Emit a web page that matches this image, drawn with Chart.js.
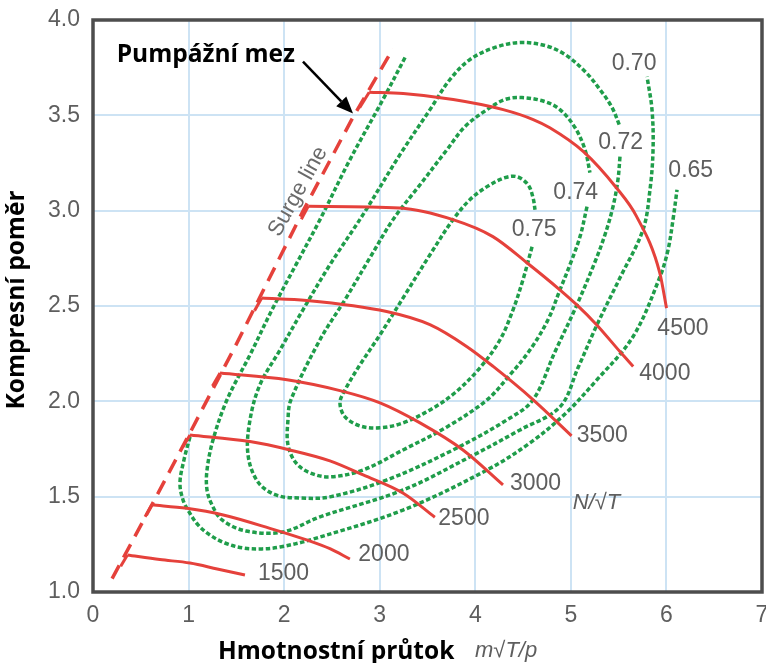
<!DOCTYPE html>
<html>
<head>
<meta charset="utf-8">
<script src="https://cdn.jsdelivr.net/npm/chart.js@4.4.1/dist/chart.umd.min.js"></script>
<style>
html, body { margin: 0; padding: 0; background: #fff; }
#wrap { position: relative; width: 766px; height: 663px; }
</style>
</head>
<body>
<div id="wrap"><canvas id="mapa"></canvas></div>
<script>
// tick labels
var xTickLabels = ['0', '1', '2', '3', '4', '5', '6', '7'];
var yTickLabels = ['1.0', '1.5', '2.0', '2.5', '3.0', '3.5', '4.0'];

// surge line (pumpazni mez)
var surgeLine = [[0.2, 1.07], [0.63, 1.47], [1.02, 1.84], [1.5, 2.3], [2.2, 3.0], [2.72, 3.49], [3.14, 3.85]];

// speed lines N/sqrt(T)
var speedNames = ['1500', '2000', '2500', '3000', '3500', '4000', '4500'];
var speed1500 = [[0.36, 1.194], [0.70, 1.17], [1.015, 1.152], [1.30, 1.121], [1.59, 1.089]];
var speed2000 = [[0.615, 1.457], [0.98, 1.439], [1.363, 1.404], [1.851, 1.334], [2.235, 1.273], [2.479, 1.227], [2.688, 1.173]];
var speed2500 = [[1.015, 1.824], [1.642, 1.789], [2.061, 1.745], [2.479, 1.688], [2.827, 1.614], [3.246, 1.518], [3.577, 1.392]];
var speed3000 = [[1.329, 2.148], [2.03, 2.113], [2.584, 2.056], [3.003, 1.992], [3.422, 1.887], [3.871, 1.745], [4.29, 1.562]];
var speed3500 = [[1.765, 2.542], [2.236, 2.529], [3.072, 2.471], [3.525, 2.402], [3.909, 2.288], [4.187, 2.183], [4.606, 2.008], [5.007, 1.819]];
var speed4000 = [[2.252, 3.023], [3.211, 3.014], [3.766, 2.953], [4.184, 2.864], [4.54, 2.727], [4.885, 2.585], [5.06, 2.507], [5.269, 2.402], [5.513, 2.261], [5.652, 2.183]];
var speed4500 = [[2.89, 3.621], [3.246, 3.614], [3.769, 3.583], [4.292, 3.53], [4.606, 3.478], [4.78, 3.435], [5.129, 3.311], [5.478, 3.119], [5.687, 2.97], [5.931, 2.673], [6.001, 2.489]];
var speedLines = [speed1500, speed2000, speed2500, speed3000, speed3500, speed4000, speed4500];
// short pieces where each speed line leaves the surge line
var surgeFeet = [[0.29, 1.135], [0.545, 1.395], [0.94, 1.76], [1.25, 2.08], [1.69, 2.475], [2.18, 2.955], [2.79, 3.54]];

// efficiency contours
var effNames = ['0.65', '0.70', '0.72', '0.74', '0.75'];
var eff065 = [[1.015, 1.814], [0.952, 1.693], [0.910, 1.572], [0.942, 1.483], [1.005, 1.420], [1.099, 1.352], [1.224, 1.299], [1.381, 1.257], [1.570, 1.231], [1.768, 1.226], [1.957, 1.236], [2.271, 1.273], [3.244, 1.430], [4.123, 1.640], [4.573, 1.782], [4.939, 1.934], [5.253, 2.102], [5.650, 2.339], [5.933, 2.654], [6.017, 2.795], [6.069, 2.953], [6.111, 3.110]];
var eff070 = [[3.265, 3.803], [3.034, 3.583], [2.689, 3.268], [2.375, 2.953], [2.124, 2.717], [1.873, 2.480], [1.643, 2.244], [1.402, 2.008], [1.256, 1.798], [1.193, 1.640], [1.193, 1.535], [1.245, 1.457], [1.350, 1.378], [1.601, 1.320], [1.988, 1.315], [2.375, 1.394], [3.244, 1.535], [3.945, 1.709], [4.468, 1.850], [4.886, 1.971], [5.075, 2.176], [5.274, 2.402], [5.514, 2.648], [5.755, 2.900], [5.828, 3.110], [5.860, 3.320], [5.849, 3.530], [5.797, 3.703]];
var eff072 = [[5.514, 3.283], [5.493, 3.163], [5.441, 3.021], [5.357, 2.874], [5.253, 2.732], [5.064, 2.507], [4.834, 2.260], [4.604, 2.008], [4.332, 1.903], [3.767, 1.745], [3.076, 1.588], [2.480, 1.499], [2.166, 1.493], [1.915, 1.509], [1.726, 1.577], [1.622, 1.719], [1.643, 1.903], [1.747, 2.087], [1.957, 2.270], [2.197, 2.480], [2.480, 2.717], [2.825, 2.979], [3.212, 3.294], [3.526, 3.530], [3.735, 3.688], [3.945, 3.793], [4.206, 3.856], [4.468, 3.882], [4.730, 3.866], [4.939, 3.819], [5.148, 3.730], [5.305, 3.635], [5.431, 3.541], [5.514, 3.441]];
var eff074 = [[5.169, 3.021], [5.096, 2.864], [4.991, 2.717], [4.886, 2.585], [4.761, 2.428], [4.573, 2.270], [4.363, 2.139], [4.123, 2.008], [3.704, 1.866], [3.244, 1.745], [2.825, 1.640], [2.480, 1.604], [2.271, 1.625], [2.124, 1.677], [2.040, 1.772], [2.040, 1.903], [2.071, 2.008], [2.375, 2.323], [2.637, 2.533], [2.898, 2.753], [3.139, 2.953], [3.422, 3.136], [3.704, 3.320], [3.892, 3.441], [4.123, 3.530], [4.311, 3.583], [4.489, 3.593], [4.730, 3.572], [4.886, 3.530], [5.043, 3.436], [5.148, 3.320], [5.200, 3.199]];
var eff075 = [[4.594, 2.811], [4.499, 2.638], [4.395, 2.480], [4.259, 2.323], [4.049, 2.176], [3.788, 2.045], [3.526, 1.955], [3.244, 1.887], [3.003, 1.861], [2.794, 1.871], [2.637, 1.919], [2.584, 1.992], [2.637, 2.060], [2.794, 2.192], [3.003, 2.349], [3.265, 2.559], [3.526, 2.769], [3.767, 2.953], [3.945, 3.058], [4.123, 3.126], [4.311, 3.173], [4.437, 3.178], [4.552, 3.136], [4.604, 3.068], [4.625, 3.005]];
var effLines = [eff065, eff070, eff072, eff074, eff075];

// where the texts sit (data coordinates)
var speedLabelAt = [[1.726, 1.097], [2.776, 1.194], [3.613, 1.386], [4.363, 1.570], [5.061, 1.819], [5.716, 2.144], [5.905, 2.383]];
var effLabelAt = [[6.020, 3.208], [5.427, 3.773], [5.287, 3.355], [4.817, 3.093], [4.381, 2.900]];
var nLabelAt = [5.019, 1.467];
var surgeTextAt = [2.145, 3.100];
var pumpTextAt = [0.248, 3.778];
var arrowFrom = [2.197, 3.782];
var arrowTo = [2.721, 3.509];

var RED = '#e5413b';
var GREEN = '#1f9d4a';
var GRID = '#cde3f4';
var GRAY = '#5e5e5e';
var SANS = '"Liberation Sans", Arial, sans-serif';
var BOLD = '"Open Sans", "DejaVu Sans", sans-serif';

function pts(a) {
    return a.map(function (p) { return { x: p[0], y: p[1] }; });
}

var datasets = [];
speedLines.forEach(function (line, i) {
    datasets.push({ data: pts(line), borderColor: RED, borderWidth: 3, cubicInterpolationMode: 'monotone' });
    datasets.push({ data: pts([surgeFeet[i], line[0]]), borderColor: RED, borderWidth: 3, tension: 0 });
});
datasets.push({ data: pts(surgeLine), borderColor: RED, borderWidth: 3.5, borderDash: [15, 9], tension: 0 });
effLines.forEach(function (line) {
    datasets.push({ data: pts(line), borderColor: GREEN, borderWidth: 3.5, borderDash: [4.5, 2.5], tension: 0.35 });
});
datasets.forEach(function (d) {
    d.showLine = true;
    d.pointRadius = 0;
    d.fill = false;
});

var extras = {
    id: 'extras',
    afterDatasetsDraw: function (chart) {
        var ctx = chart.ctx, xs = chart.scales.x, ys = chart.scales.y;
        function px(p) { return [xs.getPixelForValue(p[0]), ys.getPixelForValue(p[1])]; }
        var q;

        ctx.save();
        ctx.fillStyle = GRAY;
        ctx.textAlign = 'left';
        ctx.textBaseline = 'middle';
        ctx.font = '23px ' + SANS;
        speedNames.forEach(function (t, i) {
            q = px(speedLabelAt[i]);
            ctx.fillText(t, q[0], q[1]);
        });
        effNames.forEach(function (t, i) {
            q = px(effLabelAt[i]);
            ctx.fillText(t, q[0], q[1]);
        });
        ctx.font = 'italic 22px ' + SANS;
        q = px(nLabelAt);
        ctx.fillText('N/\u221AT', q[0], q[1]);

        // "Surge line" along the dashed line
        q = px(surgeTextAt);
        ctx.save();
        ctx.translate(q[0], q[1]);
        ctx.rotate(-61 * Math.PI / 180);
        ctx.textAlign = 'center';
        ctx.font = '22px ' + SANS;
        ctx.fillStyle = '#6a6a6a';
        ctx.fillText('Surge line', 0, 0);
        ctx.restore();

        // Pumpazni mez + arrow
        ctx.fillStyle = '#000';
        ctx.font = 'bold 24.5px ' + BOLD;
        ctx.textBaseline = 'alphabetic';
        q = px(pumpTextAt);
        ctx.fillText('Pumpážní mez', q[0], q[1]);

        var a = px(arrowFrom), b = px(arrowTo);
        var ang = Math.atan2(b[1] - a[1], b[0] - a[0]);
        var head = 17, half = 7;
        var bx = b[0] - head * Math.cos(ang), by = b[1] - head * Math.sin(ang);
        ctx.strokeStyle = '#000';
        ctx.lineWidth = 2.5;
        ctx.beginPath();
        ctx.moveTo(a[0], a[1]);
        ctx.lineTo(bx, by);
        ctx.stroke();
        ctx.beginPath();
        ctx.moveTo(b[0], b[1]);
        ctx.lineTo(bx + half * Math.sin(ang), by - half * Math.cos(ang));
        ctx.lineTo(bx - half * Math.sin(ang), by + half * Math.cos(ang));
        ctx.closePath();
        ctx.fill();
        ctx.restore();
    },
    afterDraw: function (chart) {
        var ctx = chart.ctx, ca = chart.chartArea;
        ctx.save();
        ctx.strokeStyle = '#4d4d4d';
        ctx.lineWidth = 3.5;
        ctx.strokeRect(ca.left, ca.top, ca.right - ca.left, ca.bottom - ca.top);

        // axis titles
        ctx.fillStyle = '#000';
        ctx.font = 'bold 24.5px ' + BOLD;
        ctx.textBaseline = 'alphabetic';
        ctx.textAlign = 'left';
        ctx.fillText('Hmotnostní průtok', 218, 659);
        ctx.fillStyle = GRAY;
        ctx.font = 'italic 22px ' + SANS;
        ctx.fillText('m\u221AT/p', 475, 657);

        ctx.translate(17, 300);
        ctx.rotate(-Math.PI / 2);
        ctx.fillStyle = '#000';
        ctx.font = 'bold 24.5px ' + BOLD;
        ctx.textAlign = 'center';
        ctx.textBaseline = 'middle';
        ctx.fillText('Kompresní poměr', 0, 0);
        ctx.restore();
    }
};

new Chart(document.getElementById('mapa'), {
    type: 'scatter',
    data: { datasets: datasets },
    plugins: [extras],
    options: {
        responsive: true,
        maintainAspectRatio: false,
        animation: false,
        layout: { padding: { top: 20, right: 4, left: 0, bottom: 0 } },
        plugins: {
            legend: { display: false },
            tooltip: { enabled: false }
        },
        scales: {
            x: {
                type: 'linear',
                min: 0,
                max: 7,
                afterFit: function (s) { s.height = 71; s.paddingLeft = 0; s.paddingRight = 0; },
                ticks: {
                    stepSize: 1,
                    padding: 10,
                    color: GRAY,
                    font: { family: SANS, size: 23 },
                    callback: function (v, i) { return xTickLabels[i]; }
                },
                grid: { color: GRID, lineWidth: 2, drawTicks: false },
                border: { display: false }
            },
            y: {
                min: 1,
                max: 4,
                afterFit: function (s) { s.width = 93; s.paddingTop = 0; s.paddingBottom = 0; },
                ticks: {
                    stepSize: 0.5,
                    padding: 13,
                    color: GRAY,
                    font: { family: SANS, size: 23 },
                    callback: function (v, i) { return yTickLabels[i]; }
                },
                grid: { color: GRID, lineWidth: 2, drawTicks: false },
                border: { display: false }
            }
        }
    }
});
</script>
</body>
</html>
